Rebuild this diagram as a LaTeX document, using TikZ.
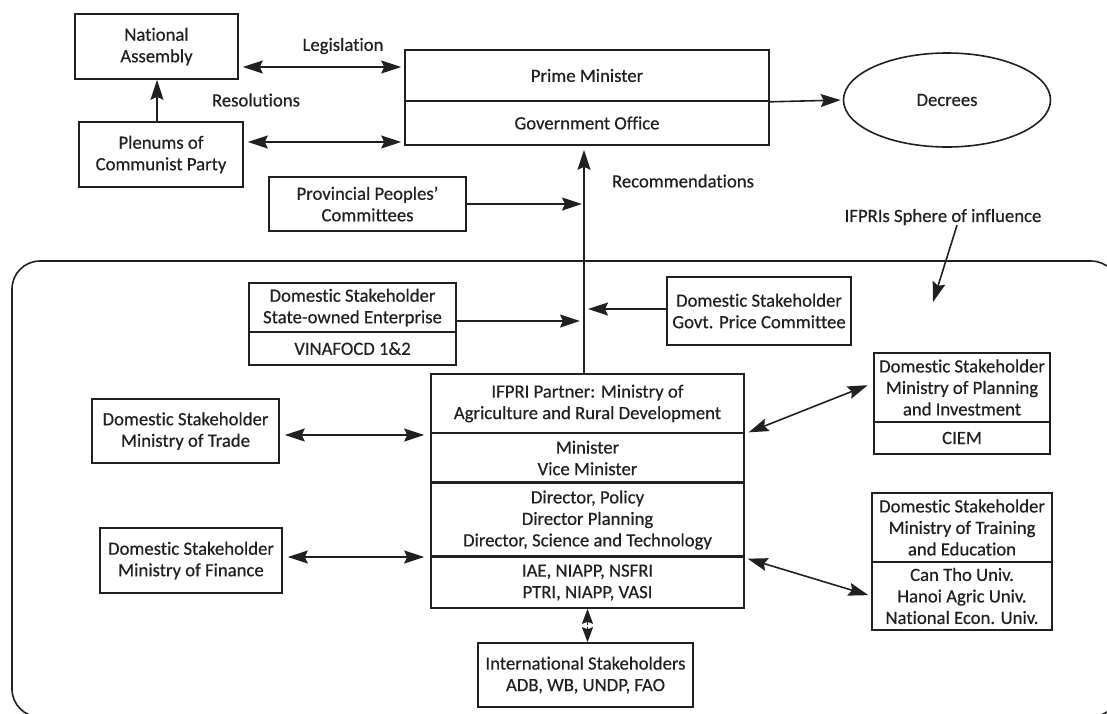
\documentclass[tikz,border=0pt]{standalone}
\usepackage{fontspec}
\setmainfont{Carlito}[Ligatures=NoCommon, FakeBold=0.5]
\usetikzlibrary{arrows.meta,shapes.geometric,calc}
\definecolor{ink}{HTML}{231F20}
\tikzset{
  every node/.style={font=\fontsize{18.7}{21.5}\selectfont, text=ink},
  box/.style={draw=ink, line width=1.6pt, rectangle, inner sep=0pt, align=center},
  lbl/.style={inner sep=0pt, align=center},
  arr/.style={draw=ink, line width=1.6pt, -{Stealth[length=20pt,width=13pt,inset=3pt]}},
  darr/.style={draw=ink, line width=1.6pt, {Stealth[length=20pt,width=13pt,inset=3pt]}-{Stealth[length=20pt,width=13pt,inset=3pt]}},
  sarr/.style={draw=ink, line width=1.6pt, -{Stealth[length=15pt,width=11pt,inset=2pt]}},
  thick divider/.style={draw=ink, line width=3pt}
}
\begin{document}
\begin{tikzpicture}[x=1pt,y=-1pt]
\useasboundingbox (0,0) rectangle (1107,713);
% sphere of influence
\begin{scope}
  \clip (0,0) rectangle (1107,713);
  \draw[ink, line width=1.6pt, rounded corners=28pt] (12,261) rectangle (1119,717);
\end{scope}

% top level
\node[box, minimum width=163pt, minimum height=65pt] (NA) at (156.5,46.5) {National\\Assembly};
\node[box, minimum width=164pt, minimum height=65pt] (PL) at (161,154.5) {Plenums of\\Communist Party};
\node[box, minimum width=364pt, minimum height=51pt] (PMt) at (587,75.5) {\raisebox{-4pt}{Prime Minister}};
\node[box, minimum width=364pt, minimum height=44pt] (GO) at (587,123) {Government Office};
\node[draw=ink, line width=1.6pt, ellipse, minimum width=207pt, minimum height=94pt, inner sep=0pt] (DE) at (947,100) {Decrees};
\node[box, minimum width=197pt, minimum height=54pt] (PR) at (367.5,204) {Provincial Peoples'\\Committees};

\node[lbl] (leg) at (343,46) {Legislation};
\node[lbl] (res) at (256,100) {Resolutions};
\node[lbl] (rec) at (683,181) {Recommendations};
\node[lbl] (sph) at (943,217) {IFPRIs Sphere of influence};
\coordinate (sphtip) at (933,302);

% inside sphere
\node[box, minimum width=207pt, minimum height=49pt] (SOEt) at (352.5,307.5) {Domestic Stakeholder\\State-owned Enterprise};
\node[box, minimum width=207pt, minimum height=33pt] (SOEb) at (352.5,348.5) {VINAFOCD 1\&2};
\node[box, minimum width=184pt, minimum height=68pt] (GPC) at (759,311) {Domestic Stakeholder\\Govt. Price Committee};

\node[box, minimum width=313pt, minimum height=59pt] (M1) at (587.5,403.5) {IFPRI Partner: Ministry of\\Agriculture and Rural Development};
\node[box, minimum width=313pt, minimum height=50pt] (M2) at (587.5,458) {Minister\\Vice Minister};
\node[box, minimum width=313pt, minimum height=74pt] (M3) at (587.5,520) {Director, Policy\\Director Planning\\Director, Science and Technology};
\node[box, minimum width=313pt, minimum height=51pt] (M4) at (587.5,582.5) {IAE, NIAPP, NSFRI\\PTRI, NIAPP, VASI};
\draw[thick divider] (M3.north west) -- (M3.north east);
\draw[thick divider] (M4.north west) -- (M4.north east);

\node[box, minimum width=215pt, minimum height=64pt] (IS) at (585.5,675) {International Stakeholders\\ADB, WB, UNDP, FAO};
\node[box, minimum width=187pt, minimum height=64pt] (TR) at (185.5,431) {Domestic Stakeholder\\Ministry of Trade};
\node[box, minimum width=182pt, minimum height=65pt] (FI) at (191,560.5) {Domestic Stakeholder\\Ministry of Finance};

\node[box, minimum width=176pt, minimum height=69pt] (PIt) at (962,387.5) {Domestic Stakeholder\\Ministry of Planning\\and Investment};
\node[box, minimum width=176pt, minimum height=32pt] (PIb) at (962,438) {CIEM};
\node[box, minimum width=180pt, minimum height=69pt] (TEt) at (962,527.5) {Domestic Stakeholder\\Ministry of Training\\and Education};
\node[box, minimum width=180pt, minimum height=68pt] (TEb) at (962,596) {Can Tho Univ.\\Hanoi Agric Univ.\\National Econ. Univ.};

% connectors
\draw[darr, shorten <=4pt, shorten >=3pt] ([yshift=-20.5pt]NA.east) -- ([yshift=-20.5pt]NA.east -| PMt.west);
\draw[darr, shorten <=4pt, shorten >=3pt] ([yshift=12.5pt]PL.east) -- ([yshift=12.5pt]PL.east -| GO.west);
\draw[arr] ([xshift=-4pt]PL.north) -- ([xshift=-4pt]PL.north |- NA.south);
\draw[arr, shorten >=2pt] (PMt.south east) -- (DE.west);

\coordinate (vl) at ([xshift=-3.5pt]M1.north);
\draw[arr, shorten >=4pt] (vl) -- (vl |- GO.south);
\draw[arr, shorten >=2pt] (PR.east) -- (PR.east -| vl);
\draw[arr, shorten >=4pt] ([yshift=-13.5pt]SOEt.east) -- ([yshift=-13.5pt]SOEt.east -| vl);
\draw[arr, shorten >=4pt] ([yshift=2pt]GPC.west) -- ([yshift=2pt]GPC.west -| vl);

\draw[darr, shorten <=5pt, shorten >=6pt] ([yshift=-4pt]TR.east) -- ([yshift=-4pt]TR.east -| M2.west);
\draw[darr, shorten <=5pt, shorten >=6pt] ([yshift=3.5pt]FI.east) -- ([yshift=3.5pt]FI.east -| M4.west);
\draw[darr, shorten <=4pt, shorten >=6pt] (M1.south east) -- ([yshift=4.5pt]PIt.west);
\draw[darr, shorten <=3pt, shorten >=3pt] (M3.south east) -- (TEb.west);

\coordinate (mid) at ($(M4.south)!0.5!(M4.south |- IS.north)$);
\draw[sarr] ([yshift=1pt]mid) -- (M4.south);
\draw[sarr] ([yshift=-1pt]mid) -- (M4.south |- IS.north);

\draw[arr] ([xshift=14pt]sph.south) -- (sphtip);
\end{tikzpicture}
\end{document}
